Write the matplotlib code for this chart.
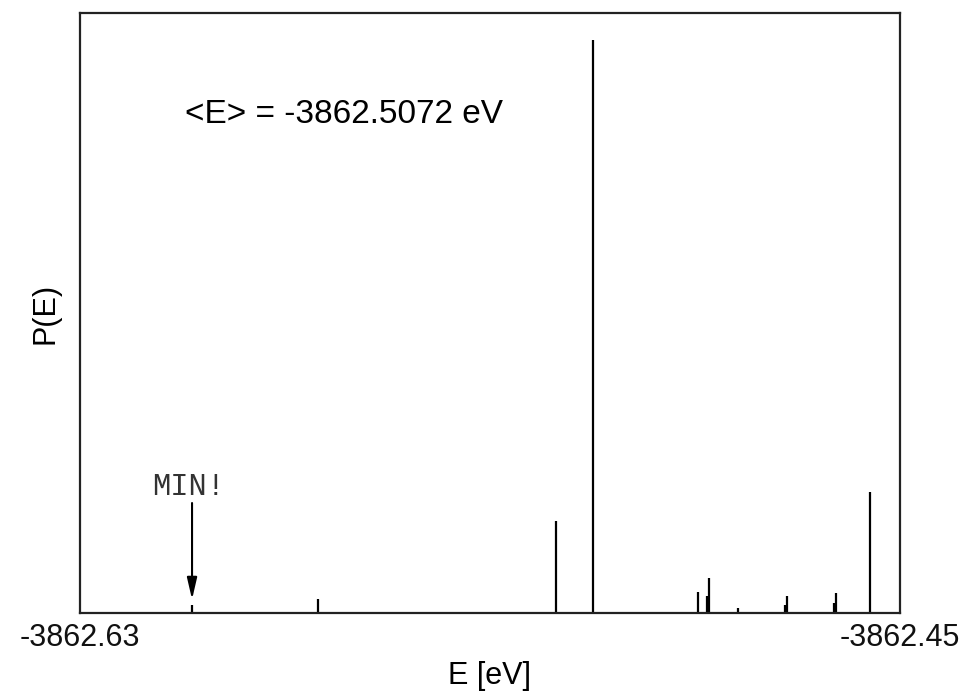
import numpy as np
import matplotlib
matplotlib.use("Agg")
import matplotlib.pyplot as plt
from matplotlib.transforms import ScaledTranslation


# -----------------------------
# DATA
# -----------------------------

energies = [-3862.6054, -3862.5778, -3862.5255, -3862.5174, -3862.4943,
            -3862.4924, -3862.4919, -3862.4856, -3862.4752, -3862.4748,
            -3862.4645, -3862.4641, -3862.4566]
probs = [0.013, 0.023, 0.153, 0.955, 0.035,
         0.028, 0.058, 0.008, 0.013, 0.028,
         0.017, 0.033, 0.202]

e_lo, e_hi = -3862.63, -3862.45
tick_labels = ["-3862.63", "-3862.45"]
mean_label = "<E> = -3862.5072 eV"
e_min = energies[0]


# -----------------------------
# PLOT
# -----------------------------

fig = plt.figure(figsize=(9.59, 6.93), dpi=100)
ax = fig.add_axes([0.0834, 0.1154, 0.855, 0.8658])

ax.vlines(energies, 0, probs, color="black", linewidth=1.6)

ax.set_xlim(e_lo, e_hi)
ax.set_ylim(0, 1)
ax.set_xticks([e_lo, e_hi])
ax.set_xticklabels(tick_labels, fontsize=22, family="Liberation Sans",
                   color="#111111")
# labels sit a few pixels left of the axis ends in the original
shift = ScaledTranslation(-6 / 100, 0, fig.dpi_scale_trans)
for lab in ax.get_xticklabels():
    lab.set_transform(lab.get_transform() + shift)
ax.tick_params(axis="x", length=0, pad=7)
ax.set_yticks([])

for s in ax.spines.values():
    s.set_linewidth(1.6)
    s.set_color("#222222")

ax.set_xlabel("E [eV]", fontsize=22, family="Liberation Sans", labelpad=6)
ax.set_ylabel("P(E)", fontsize=22, family="Liberation Sans", labelpad=14)

ax.text(0.128, 0.817, mean_label, transform=ax.transAxes,
        fontsize=24, family="Liberation Sans", va="baseline")

# arrow marking the minimum
ax.annotate("", xy=(e_min, 0.018), xytext=(e_min, 0.188),
            arrowprops=dict(arrowstyle="-|>,head_width=0.3,head_length=1.3",
                            color="black", linewidth=1.5))
ax.text(e_min - 0.0007, 0.197, "MIN!", fontsize=22, family="Liberation Mono",
        ha="center", va="baseline", color="#333333")

fig.savefig("out.png", dpi=100)
